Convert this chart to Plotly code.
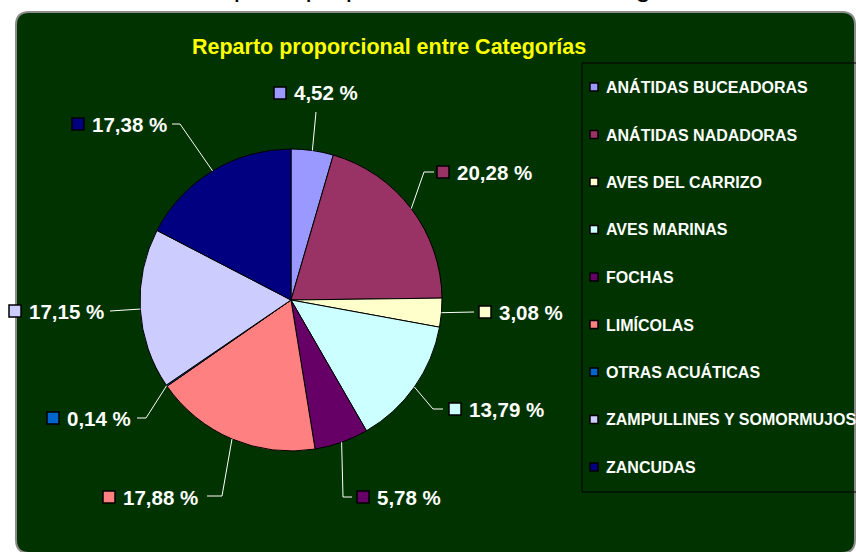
import math
import plotly.graph_objects as go

# ---------------- data ----------------
categories = [
    "ANÁTIDAS BUCEADORAS", "ANÁTIDAS NADADORAS", "AVES DEL CARRIZO", "AVES MARINAS",
    "FOCHAS", "LIMÍCOLAS", "OTRAS ACUÁTICAS", "ZAMPULLINES Y SOMORMUJOS", "ZANCUDAS",
]
percentages = [4.52, 20.28, 3.08, 13.79, 5.78, 17.88, 0.14, 17.15, 17.38]
colors = ["#9999FF", "#993366", "#FFFFCC", "#CCFFFF", "#660066",
          "#FF8080", "#0066CC", "#CCCCFF", "#000080"]
title_text = "Reparto proporcional entre Categorías"
page_title_text = "Reparto proporcional entre las categorías"

# ---------------- layout constants (pixels) ----------------
W, H = 856, 552
CX, CY, R = 291, 300, 151          # pie centre & radius


def fx(x):
    return x / W


def fy(y):
    return 1 - y / H


# label boxes: (square left x, centre y) and leader polyline tail points
label_sq = [(274, 93), (437, 172), (479, 312), (449, 409), (357, 497),
            (103, 497), (47, 418), (9, 311), (72, 124)]
leader_tail = [
    [(316, 112)],
    [(424, 172), (434, 172)],
    [(474, 312)],
    [(433, 409), (443, 409)],
    [(343, 497), (352, 497)],
    [(222, 496), (207, 496)],
    [(146, 418), (137, 418)],
    [(110, 311)],
    [(180, 124), (172, 124)],
]

FONT = "Liberation Sans, Arial, sans-serif"

fig = go.Figure()

fig.add_trace(go.Pie(
    labels=categories,
    values=percentages,
    marker=dict(colors=colors, line=dict(color="black", width=1)),
    sort=False,
    direction="clockwise",
    rotation=0,
    textinfo="none",
    hoverinfo="label+percent",
    showlegend=False,
    domain=dict(x=[fx(CX - R), fx(CX + R)], y=[fy(CY + R), fy(CY - R)]),
))

shapes = []
annotations = []

# rounded green panel
x0, y0, x1, y1, rr = 16, 12, 855, 553, 13
path = (f"M {fx(x0+rr)},{fy(y0)} L {fx(x1-rr)},{fy(y0)} Q {fx(x1)},{fy(y0)} {fx(x1)},{fy(y0+rr)} "
        f"L {fx(x1)},{fy(y1-rr)} Q {fx(x1)},{fy(y1)} {fx(x1-rr)},{fy(y1)} "
        f"L {fx(x0+rr)},{fy(y1)} Q {fx(x0)},{fy(y1)} {fx(x0)},{fy(y1-rr)} "
        f"L {fx(x0)},{fy(y0+rr)} Q {fx(x0)},{fy(y0)} {fx(x0+rr)},{fy(y0)} Z")
shapes.append(dict(type="path", xref="paper", yref="paper", path=path,
                   fillcolor="#003300", line=dict(color="#8c8c8c", width=2), layer="below"))

# legend box
shapes.append(dict(type="rect", xref="paper", yref="paper",
                   x0=fx(582), x1=fx(880), y0=fy(492), y1=fy(63),
                   line=dict(color="black", width=1), fillcolor="rgba(0,0,0,0)"))

# data labels with leader lines
cum = 0.0
for i, (v, c) in enumerate(zip(percentages, colors)):
    theta = 2 * math.pi * (cum + v / 2) / sum(percentages)
    cum += v
    ex, ey = CX + R * math.sin(theta), CY - R * math.cos(theta)
    pts = [(ex, ey)] + leader_tail[i]
    p = "M " + " L ".join(f"{fx(a)},{fy(b)}" for a, b in pts)
    shapes.append(dict(type="path", xref="paper", yref="paper", path=p,
                       line=dict(color="white", width=1)))
    sx, sy = label_sq[i]
    shapes.append(dict(type="rect", xref="paper", yref="paper",
                       x0=fx(sx), x1=fx(sx + 12), y0=fy(sy + 6), y1=fy(sy - 6),
                       fillcolor=c, line=dict(color="black", width=1.5)))
    txt = f"{v:.2f}".replace(".", ",") + " %"
    annotations.append(dict(xref="paper", yref="paper", x=fx(sx + 18), y=fy(sy),
                            xanchor="left", yanchor="middle", showarrow=False,
                            text=f"<b>{txt}</b>",
                            font=dict(family=FONT, size=20.5, color="white")))

# legend entries
for i, (cat, c) in enumerate(zip(categories, colors)):
    ly = 87 + 47.5 * i
    shapes.append(dict(type="rect", xref="paper", yref="paper",
                       x0=fx(590), x1=fx(598), y0=fy(ly + 4), y1=fy(ly - 4),
                       fillcolor=c, line=dict(color="black", width=1.5)))
    annotations.append(dict(xref="paper", yref="paper", x=fx(604), y=fy(ly),
                            xanchor="left", yanchor="middle", showarrow=False,
                            text=f"<b>{cat}</b>",
                            font=dict(family=FONT, size=16, color="white")))

# chart title
annotations.append(dict(xref="paper", yref="paper", x=fx(389), y=fy(47),
                        xanchor="center", yanchor="middle", showarrow=False,
                        text=f"<b>{title_text}</b>",
                        font=dict(family=FONT, size=21.5, color="#FFFF00")))

# page title cut off at the top
annotations.append(dict(xref="paper", yref="paper", x=fx(456), y=fy(-14),
                        xanchor="center", yanchor="middle", showarrow=False,
                        text=page_title_text,
                        font=dict(family=FONT, size=28, color="black")))

fig.update_layout(
    width=W, height=H,
    margin=dict(l=0, r=0, t=0, b=0),
    paper_bgcolor="white",
    plot_bgcolor="white",
    shapes=shapes,
    annotations=annotations,
    showlegend=False,
)

fig.write_html("out.html",
               config=dict(displayModeBar=False),
               post_script="document.body.style.margin='0';document.body.style.overflow='hidden';")
